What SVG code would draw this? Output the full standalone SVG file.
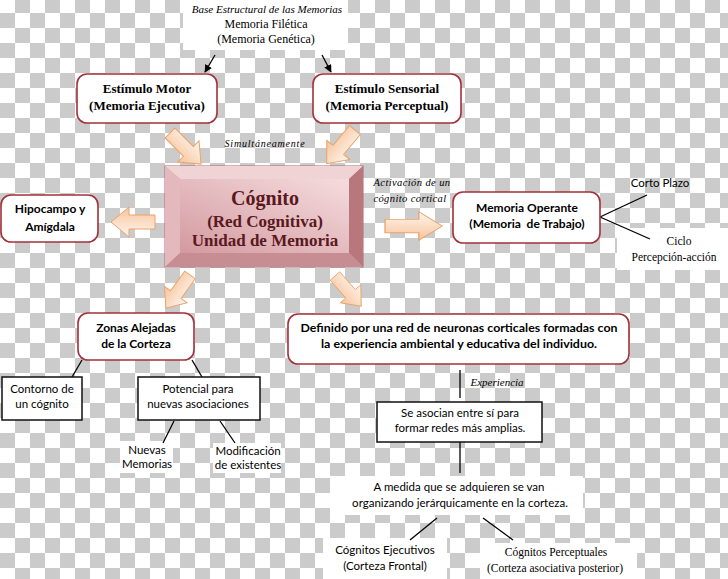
<svg xmlns="http://www.w3.org/2000/svg" width="728" height="579" viewBox="0 0 728 579">
<defs>
  <pattern id="chk" width="30" height="30" patternUnits="userSpaceOnUse" patternTransform="translate(0,-2)">
    <rect width="30" height="30" fill="#ffffff"/>
    <rect x="15" y="0" width="15" height="15" fill="#cbcbcb"/>
    <rect x="0" y="15" width="15" height="15" fill="#cbcbcb"/>
  </pattern>
  <linearGradient id="ag" x1="0" y1="0" x2="0" y2="1">
    <stop offset="0" stop-color="#fff6ee"/>
    <stop offset="1" stop-color="#f7c39a"/>
  </linearGradient>
  <linearGradient id="face" x1="1" y1="0" x2="0" y2="1">
    <stop offset="0" stop-color="#f5dcde"/>
    <stop offset="1" stop-color="#d39aa0"/>
  </linearGradient>
  <path id="barrow" d="M0,-7 L26,-7 L26,-15 L44,0 L26,15 L26,7 L0,7 Z"/>
  <marker id="ah" viewBox="0 0 10 10" refX="9" refY="5" markerWidth="6" markerHeight="6" orient="auto">
    <path d="M0,0 L10,5 L0,10 z" fill="#000"/>
  </marker>
</defs>
<style>
  .rbox { fill:#ffffff; stroke:#a3303a; stroke-width:1.6; }
  .kbox { fill:#ffffff; stroke:#111111; stroke-width:1.5; }
  .ser { font-family:"Liberation Serif","Times New Roman",serif; fill:#000; text-anchor:middle; }
  .serb { font-family:"Liberation Serif","Times New Roman",serif; font-weight:bold; fill:#000; text-anchor:middle; font-size:13px; }
  .it { font-family:"Liberation Serif","Times New Roman",serif; font-style:italic; fill:#000; text-anchor:middle; }
  .sb { font-family:Lato,"Liberation Sans",sans-serif; font-weight:bold; fill:#000; text-anchor:middle; font-size:12px; }
  .s { font-family:Lato,"Liberation Sans",sans-serif; fill:#000; text-anchor:middle; font-size:11.5px; }
  .ln { stroke:#000; stroke-width:1.3; fill:none; }
  .ba { fill:url(#ag); stroke:#e9a46c; stroke-width:1; }
  .cg { font-family:"Liberation Serif","Times New Roman",serif; font-weight:bold; fill:#5a1820; text-anchor:middle; }
</style>

<rect width="728" height="579" fill="url(#chk)"/>
<!-- white backgrounds behind free text -->
<rect x="183" y="0" width="165" height="50" fill="#fff"/>
<rect x="617" y="228" width="111" height="42" fill="#fff"/>
<rect x="120" y="441" width="53" height="32" fill="#fff"/>
<rect x="213" y="443" width="68" height="30" fill="#fff"/>
<rect x="330" y="476" width="253" height="39" fill="#fff"/>
<rect x="323" y="538" width="124" height="41" fill="#fff"/>
<rect x="480" y="543" width="157" height="36" fill="#fff"/>

<g id="connectors">
  <line class="ln" x1="215" y1="55" x2="205" y2="72" marker-end="url(#ah)"/>
  <line class="ln" x1="322" y1="55" x2="331" y2="72" marker-end="url(#ah)"/>
  <use href="#barrow" class="ba" transform="translate(170,133) rotate(45)"/>
  <use href="#barrow" class="ba" transform="translate(355,130) rotate(130)"/>
  <use href="#barrow" class="ba" transform="translate(155,222) rotate(180)"/>
  <use href="#barrow" class="ba" transform="translate(385,226) scale(1.3,0.95)"/>
  <use href="#barrow" class="ba" transform="translate(190,275) rotate(126) scale(0.93)"/>
  <use href="#barrow" class="ba" transform="translate(335,276) rotate(49) scale(0.91)"/>
  <line class="ln" x1="600" y1="217" x2="647" y2="195"/>
  <line class="ln" x1="600" y1="217" x2="650" y2="239"/>
  <line class="ln" x1="82" y1="360" x2="72" y2="377"/>
  <line class="ln" x1="192" y1="360" x2="202" y2="377"/>
  <line class="ln" x1="174" y1="421" x2="163" y2="443"/>
  <line class="ln" x1="220" y1="421" x2="235" y2="443"/>
  <line class="ln" x1="460" y1="370" x2="460" y2="398"/>
  <line class="ln" x1="460" y1="442" x2="460" y2="473"/>
  <line class="ln" x1="437" y1="518" x2="410" y2="540"/>
  <line class="ln" x1="483" y1="518" x2="513" y2="540"/>
</g>

<g id="labels">
  <text class="it" x="267" y="13" font-size="11">Base Estructural de las Memorias</text>
  <text class="ser" x="266" y="28" font-size="12">Memoria Filética</text>
  <text class="ser" x="266" y="43" font-size="12">(Memoria Genética)</text>
  <text class="it" x="265" y="147" font-size="10" letter-spacing="0.8">Simultáneamente</text>
  <text class="it" x="412" y="186" font-size="10.5" letter-spacing="0.4">Activación de un</text>
  <text class="it" x="410" y="202" font-size="10.5" letter-spacing="0.4">cógnito cortical</text>
  <text class="it" x="497" y="386" font-size="11">Experiencia</text>
</g>

<g id="n-motor">
  <rect class="rbox" x="77" y="74" width="140" height="49" rx="10"/>
  <text class="serb" x="147" y="93">Estímulo Motor</text>
  <text class="serb" x="147" y="110">(Memoria Ejecutiva)</text>
</g>

<g id="n-sensorial">
  <rect class="rbox" x="313" y="74" width="148" height="49" rx="10"/>
  <text class="serb" x="387" y="93">Estímulo Sensorial</text>
  <text class="serb" x="387" y="110">(Memoria Perceptual)</text>
</g>

<g id="n-cognito">
  <rect x="165" y="166" width="198" height="101" fill="#d7a3a8" stroke="#a86a70" stroke-width="1"/>
  <polygon points="165,166 363,166 349,179 180,179" fill="#efd3d5"/>
  <polygon points="165,166 180,179 180,253 165,267" fill="#e4b9bd"/>
  <polygon points="363,166 363,267 349,253 349,179" fill="#b8767d"/>
  <polygon points="165,267 180,253 349,253 363,267" fill="#c68d93"/>
  <rect x="180" y="179" width="169" height="74" fill="url(#face)"/>
  <text class="cg" x="265" y="205" font-size="20">Cógnito</text>
  <text class="cg" x="265" y="227" font-size="17">(Red Cognitiva)</text>
  <text class="cg" x="265" y="246" font-size="17">Unidad de Memoria</text>
</g>

<g id="n-hipocampo">
  <rect class="rbox" x="1" y="195" width="97" height="47" rx="10"/>
  <text class="sb" x="50" y="213">Hipocampo y</text>
  <text class="sb" x="50" y="231">Amígdala</text>
</g>

<g id="n-operante">
  <rect class="rbox" x="453" y="192" width="147" height="51" rx="10"/>
  <text class="sb" x="527" y="212">Memoria Operante</text>
  <text class="sb" x="527" y="228" xml:space="preserve">(Memoria  de Trabajo)</text>
</g>

<g id="n-corto">
  <text class="s" x="660" y="187" font-size="11">Corto Plazo</text>
</g>

<g id="n-ciclo">
  <text class="ser" x="679" y="245" font-size="11.5">Ciclo</text>
  <text class="ser" x="674" y="261" font-size="11.5">Percepción-acción</text>
</g>

<g id="n-zonas">
  <rect class="rbox" x="78" y="313" width="116" height="47" rx="10"/>
  <text class="sb" x="136" y="332">Zonas Alejadas</text>
  <text class="sb" x="136" y="348">de la Corteza</text>
</g>

<g id="n-contorno">
  <rect class="kbox" x="2" y="377" width="80" height="43"/>
  <text class="s" x="42" y="393">Contorno de</text>
  <text class="s" x="42" y="408">un cógnito</text>
</g>

<g id="n-potencial">
  <rect class="kbox" x="138" y="377" width="122" height="43"/>
  <text class="s" x="198" y="393">Potencial para</text>
  <text class="s" x="198" y="408">nuevas asociaciones</text>
</g>

<g id="n-nuevas">
  <text class="s" x="147" y="454">Nuevas</text>
  <text class="s" x="147" y="468">Memorias</text>
</g>

<g id="n-modificacion">
  <text class="s" x="248" y="455">Modificación</text>
  <text class="s" x="248" y="469">de existentes</text>
</g>

<g id="n-definido">
  <rect class="rbox" x="288" y="314" width="341" height="50" rx="10"/>
  <text class="sb" x="459" y="332" textLength="317" lengthAdjust="spacingAndGlyphs">Definido por una red de neuronas corticales formadas con</text>
  <text class="sb" x="459" y="348" textLength="276" lengthAdjust="spacingAndGlyphs">la experiencia ambiental y educativa del individuo.</text>
</g>

<g id="n-asocian">
  <rect class="kbox" x="377" y="402" width="165" height="40"/>
  <text class="s" x="460" y="417">Se asocian entre sí para</text>
  <text class="s" x="460" y="432">formar redes más amplias.</text>
</g>

<g id="n-medida">
  <text class="s" x="459" y="491">A medida que se adquieren se van</text>
  <text class="s" x="460" y="507">organizando jerárquicamente en la corteza.</text>
</g>

<g id="n-ejecutivos">
  <text class="s" x="385" y="554">Cógnitos Ejecutivos</text>
  <text class="s" x="385" y="570">(Corteza Frontal)</text>
</g>

<g id="n-perceptuales">
  <text class="ser" x="556" y="556" font-size="11.5">Cógnitos Perceptuales</text>
  <text class="ser" x="555" y="572" font-size="11.5">(Corteza asociativa posterior)</text>
</g>
</svg>
